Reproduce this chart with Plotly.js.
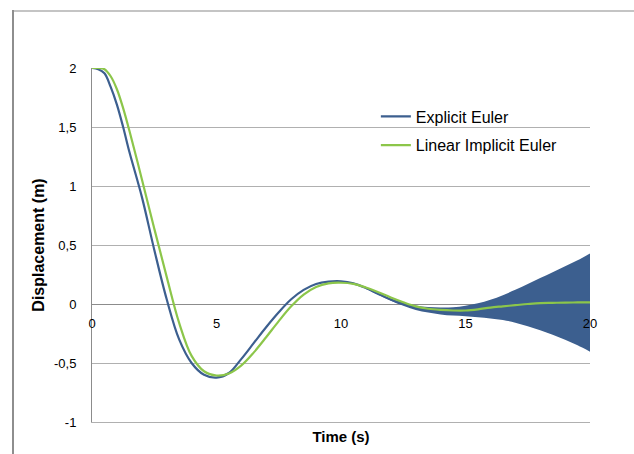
<!DOCTYPE html>
<html>
<head>
<meta charset="utf-8">
<script src="https://cdn.plot.ly/plotly-3.0.1.min.js"></script>
<style>
  html, body { margin: 0; padding: 0; background: #fff; overflow: hidden; }
  #wrap { position: relative; width: 634px; height: 454px; }
  #chart { position: absolute; left: 0; top: 0; width: 634px; height: 454px; }
  #bt { position: absolute; left: 13px; top: 10px; width: 630px; height: 0; border-top: 2px solid #c4c4c4; }
  #bl { position: absolute; left: 12px; top: 10px; width: 0; height: 450px; border-left: 2px solid #8e8e8e; }
</style>
</head>
<body>
<div id="wrap">
  <div id="chart"></div>
  <div id="bt"></div>
  <div id="bl"></div>
</div>
<script>
// Time samples (s)
const time = [0,0.25,0.5,0.75,1,1.25,1.5,2,2.5,3,3.5,4,4.5,5,5.5,6,6.5,7,7.5,8,8.5,9,9.5,10,
              10.5,11,11.5,12,12.5,13,13.5,14,14.5,15,15.5,16,16.5,17,17.5,18,18.5,19,19.5,20];

// Explicit Euler (mean path, m)
const explicitEuler = [2.00,1.99,1.955,1.84,1.69,1.50,1.29,0.91,0.46,0.04,-0.30,-0.50,-0.60,-0.624,-0.585,-0.465,-0.33,-0.195,-0.07,0.04,0.12,0.17,0.19,0.193,
                       0.175,0.135,0.085,0.038,0.0,-0.03,-0.05,-0.06,-0.065,-0.06,-0.055,-0.045,-0.03,-0.02,-0.01,0.0,0.005,0.01,0.01,0.012];

// Linear Implicit Euler (m)
const implicitEuler = [2.00,2.00,1.99,1.93,1.82,1.66,1.47,1.06,0.64,0.23,-0.16,-0.44,-0.57,-0.606,-0.589,-0.52,-0.41,-0.28,-0.145,-0.02,0.08,0.145,0.175,0.18,
                       0.17,0.14,0.10,0.055,0.015,-0.02,-0.04,-0.05,-0.055,-0.055,-0.045,-0.03,-0.02,-0.01,0.0,0.008,0.01,0.012,0.013,0.014];

// Explicit Euler high-frequency oscillation envelope (m)
const bandTime  = [11,11.5,12,12.5,13,13.5,14,14.5,15,15.5,16,16.5,17,17.5,18,18.5,19,19.5,20];
const bandUpper = [0.137,0.089,0.045,0.013,-0.012,-0.026,-0.03,-0.028,-0.014,0.006,0.036,0.075,0.12,0.17,0.22,0.27,0.32,0.37,0.428];
const bandLower = [0.128,0.078,0.028,-0.015,-0.05,-0.073,-0.088,-0.098,-0.104,-0.112,-0.122,-0.135,-0.158,-0.188,-0.222,-0.26,-0.302,-0.35,-0.404];

// Axis ticks
const yTicks = [-1,-0.5,0,0.5,1,1.5,2];
const yTickText = ['-1','-0,5','0','0,5','1','1,5','2'];
const xTicks = [0,5,10,15,20];
const xTickText = ['0','5','10','15','20'];

const names = ['Explicit Euler','Linear Implicit Euler'];
const blue = '#3c5f8f';
const green = '#8cc64a';
const font = 'Liberation Sans, Arial, sans-serif';

const traces = [
  { x: bandTime, y: bandLower, mode: 'lines', line: {width: 0, shape: 'spline', color: blue},
    showlegend: false, hoverinfo: 'skip', xaxis: 'x', yaxis: 'y' },
  { x: bandTime, y: bandUpper, mode: 'lines', line: {width: 0, shape: 'spline', color: blue},
    fill: 'tonexty', fillcolor: blue, showlegend: false, hoverinfo: 'skip', xaxis: 'x', yaxis: 'y' },
  { x: time, y: explicitEuler, name: names[0], mode: 'lines', legendgroup: 'a',
    line: {color: blue, width: 2.2, shape: 'spline'}, xaxis: 'x', yaxis: 'y' },
  { x: time, y: implicitEuler, name: names[1], mode: 'lines', legendgroup: 'b',
    line: {color: green, width: 2.2, shape: 'spline'}, xaxis: 'x2', yaxis: 'y' }
];

const layout = {
  width: 634, height: 454,
  margin: {l: 92, r: 44, t: 68, b: 32},
  paper_bgcolor: 'rgba(0,0,0,0)', plot_bgcolor: 'rgba(0,0,0,0)',
  font: {family: font, size: 13, color: '#000'},
  showlegend: true,
  legend: {x: 0.57, y: 0.911, xanchor: 'left', yanchor: 'top',
           font: {family: font, size: 16, color: '#000'},
           bgcolor: 'rgba(0,0,0,0)', tracegroupgap: 5, itemwidth: 30},
  xaxis: {range: [0, 20], showticklabels: false, ticks: '', showgrid: false, zeroline: false,
          showline: true, linecolor: '#b0b0b0', linewidth: 1, fixedrange: true,
          title: {text: 'Time (s)', standoff: 9, font: {family: font, size: 15, color: '#000', weight: 'bold'}}},
  xaxis2: {range: [0, 20], overlaying: 'x', anchor: 'free', position: 1/3, side: 'bottom',
           tickvals: xTicks, ticktext: xTickText, ticks: '', ticklabelstandoff: 10,
           showgrid: false, zeroline: false, showline: false,
           tickfont: {family: font, size: 13, color: '#000'}},
  yaxis: {range: [-1, 2], tickvals: yTicks, ticktext: yTickText, ticks: '', ticklabelstandoff: 12,
          showgrid: true, gridcolor: '#b0b0b0', gridwidth: 1,
          zeroline: true, zerolinecolor: '#8c8c8c', zerolinewidth: 1,
          showline: true, linecolor: '#8c8c8c', linewidth: 1,
          tickfont: {family: font, size: 13, color: '#000'},
          title: {text: 'Displacement (m)', standoff: 5, font: {family: font, size: 16, color: '#000', weight: 'bold'}}}
};

Plotly.newPlot('chart', traces, layout, {displayModeBar: false, staticPlot: true});
</script>
</body>
</html>
